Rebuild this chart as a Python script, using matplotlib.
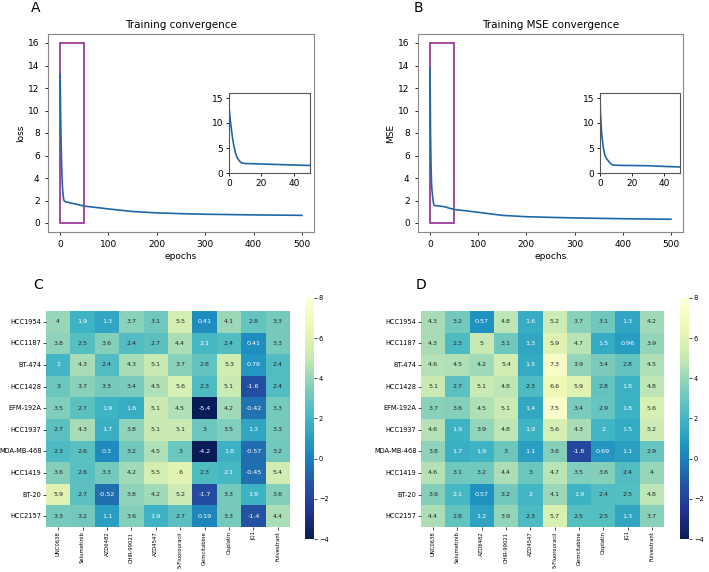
import matplotlib
matplotlib.use("Agg")
import matplotlib.pyplot as plt
import numpy as np
import seaborn as sns

epochs = [0, 1, 2, 3, 4, 5, 6, 7, 8, 10, 15, 20, 30, 40, 50, 75, 100, 150, 200, 250, 300, 400, 500]
loss = [13.2, 10.0, 7.4, 5.4, 4.0, 3.1, 2.6, 2.2, 2.0, 1.9, 1.85, 1.8, 1.7, 1.6, 1.5, 1.38, 1.25, 1.02, 0.9, 0.83, 0.78, 0.72, 0.68]
mse = [13.8, 8.0, 5.2, 3.6, 2.9, 2.5, 2.1, 1.8, 1.6, 1.55, 1.52, 1.5, 1.45, 1.32, 1.2, 1.08, 0.95, 0.68, 0.56, 0.5, 0.45, 0.38, 0.33]

cell_lines = ["HCC1954", "HCC1187", "BT-474", "HCC1428", "EFM-192A", "HCC1937",
              "MDA-MB-468", "HCC1419", "BT-20", "HCC2157"]
drugs = ["UNC0638", "Selumetinib", "AZD6482", "CHIR-99021", "AZD4547",
         "5-Fluorouracil", "Gemcitabine", "Cisplatin", "JQ1", "Fulvestrant"]

vals_c = [
    [4, 1.9, 1.3, 3.7, 3.1, 5.5, 0.41, 4.1, 2.8, 3.3],
    [3.8, 2.5, 3.6, 2.4, 2.7, 4.4, 2.1, 2.4, 0.41, 3.3],
    [2, 4.3, 2.4, 4.3, 5.1, 3.7, 2.8, 5.3, 0.76, 2.4],
    [3, 3.7, 3.3, 3.4, 4.5, 5.6, 2.3, 5.1, -1.6, 2.4],
    [3.5, 2.7, 1.9, 1.6, 5.1, 4.5, -5.4, 4.2, -0.42, 3.3],
    [2.7, 4.3, 1.7, 3.8, 5.1, 5.1, 3, 3.5, 1.3, 3.3],
    [2.3, 2.6, 0.3, 3.2, 4.5, 3, -4.2, 1.8, -0.57, 3.2],
    [3.6, 2.6, 3.3, 4.2, 5.5, 6, 2.3, 2.1, -0.45, 5.4],
    [5.9, 2.7, -0.52, 3.8, 4.2, 5.2, -1.7, 3.3, 1.9, 3.6],
    [3.3, 3.2, 1.1, 3.6, 1.9, 2.7, 0.19, 3.3, -1.4, 4.4],
]
vals_d = [
    [4.3, 3.2, 0.57, 4.8, 1.6, 5.2, 3.7, 3.1, 1.3, 4.2],
    [4.3, 2.3, 5, 3.1, 1.3, 5.9, 4.7, 1.5, 0.96, 3.9],
    [4.6, 4.5, 4.2, 5.4, 1.5, 7.3, 3.9, 3.4, 2.8, 4.5],
    [5.1, 2.7, 5.1, 4.8, 2.3, 6.6, 5.9, 2.8, 1.8, 4.8],
    [3.7, 3.6, 4.5, 5.1, 1.4, 7.5, 3.4, 2.9, 1.8, 5.6],
    [4.6, 1.9, 3.9, 4.8, 1.9, 5.6, 4.3, 2, 1.5, 5.2],
    [3.8, 1.7, 1.9, 3, 1.1, 3.6, -1.8, 0.69, 1.1, 2.9],
    [4.6, 3.1, 3.2, 4.4, 3, 4.7, 3.5, 3.6, 2.4, 4],
    [3.6, 2.1, 0.57, 3.2, 2, 4.1, 1.9, 2.4, 2.5, 4.8],
    [4.4, 2.8, 1.2, 3.9, 2.3, 5.7, 2.5, 2.5, 1.3, 3.7],
]

W, H = 709, 572
fig = plt.figure(figsize=(W / 100, H / 100), dpi=100)


def box(x0, y0, x1, y1):
    return [x0 / W, 1 - y1 / H, (x1 - x0) / W, (y1 - y0) / H]


line_col = "#1f67a8"
rect_col = "#9b3c9b"


def curve_panel(pos, inset_pos, y, title, ylabel, letter, letter_xy):
    ax = fig.add_axes(box(*pos))
    ax.plot(epochs, y, color=line_col, lw=1.2)
    ax.add_patch(plt.Rectangle((0, 0), 50, 16, fill=False, edgecolor=rect_col, lw=1.3))
    ax.set_xlim(-25, 525)
    ax.set_ylim(-0.8, 16.8)
    ax.set_yticks(range(0, 17, 2))
    ax.set_xticks(range(0, 501, 100))
    ax.tick_params(labelsize=6.5, length=2.5, width=0.6)
    ax.set_title(title, fontsize=7.5, pad=4)
    ax.set_xlabel("epochs", fontsize=6.5, labelpad=2)
    ax.set_ylabel(ylabel, fontsize=6.5, labelpad=2)
    for s in ax.spines.values():
        s.set_color("#888888")
        s.set_linewidth(0.8)

    ins = fig.add_axes(box(*inset_pos))
    ins.plot(epochs, y, color=line_col, lw=1.2)
    ins.set_xlim(0, 50)
    ins.set_ylim(0, 16)
    ins.set_xticks([0, 20, 40])
    ins.set_yticks([0, 5, 10, 15])
    ins.tick_params(labelsize=6.5, length=2.5, width=0.6, pad=1.5)
    for s in ins.spines.values():
        s.set_color("#555555")
        s.set_linewidth(0.8)
    fig.text(letter_xy[0] / W, 1 - letter_xy[1] / H, letter, fontsize=10, va="center", ha="left")


curve_panel((48, 34, 314, 232), (229, 93, 310, 173), loss, "Training convergence", "loss", "A", (31, 8))
curve_panel((418, 34, 683, 232), (600, 93, 680, 173), mse, "Training MSE convergence", "MSE", "B", (414, 8))


def heat_panel(pos, cpos, vals, letter, letter_xy):
    ax = fig.add_axes(box(*pos))
    cax = fig.add_axes(box(*cpos))
    sns.heatmap(np.array(vals), ax=ax, cbar_ax=cax, cmap="YlGnBu_r", vmin=-4, vmax=8,
                annot=True, annot_kws={"fontsize": 4.6},
                xticklabels=drugs, yticklabels=cell_lines)
    ax.tick_params(length=2, width=0.5, pad=1.2)
    ax.set_xticklabels(drugs, rotation=90, fontsize=3.8)
    ax.set_yticklabels(cell_lines, rotation=0, fontsize=4.8)
    cax.tick_params(labelsize=4.8, length=2, width=0.5, pad=1.5)
    cax.set_yticks([-4, -2, 0, 2, 4, 6, 8])
    for s in cax.spines.values():
        s.set_visible(False)
    fig.text(letter_xy[0] / W, 1 - letter_xy[1] / H, letter, fontsize=10, va="center", ha="left")


heat_panel((46, 311, 290, 527), (305, 298, 314, 539), vals_c, "C", (33, 285))
heat_panel((421, 311, 664, 527), (680, 298, 689, 539), vals_d, "D", (416, 285))

fig.savefig("out.png", dpi=100)
